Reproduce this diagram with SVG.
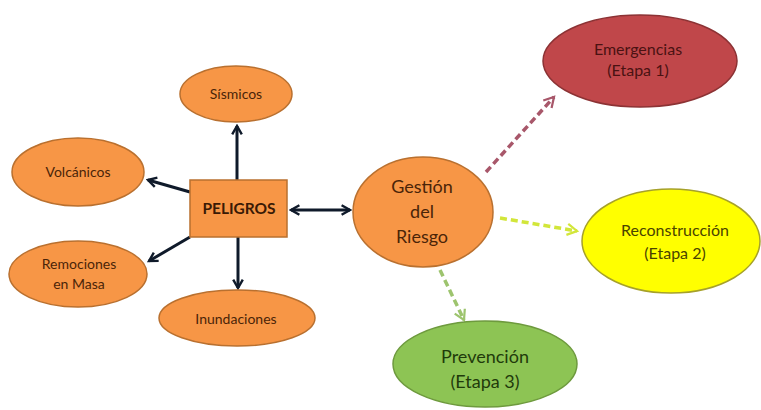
<svg xmlns="http://www.w3.org/2000/svg" width="761" height="410" viewBox="0 0 761 410">
  <style>
    .orange { fill: #F79646; stroke: #B9702F; stroke-width: 1.5; }
    .red { fill: #C0474A; stroke: #8C3234; stroke-width: 1.5; }
    .yellow { fill: #FFFF00; stroke: #A6A12A; stroke-width: 1.5; }
    .green { fill: #8DC454; stroke: #6E9A3E; stroke-width: 1.5; }
    text { font-family: Lato, "Open Sans", "Liberation Sans", sans-serif; text-anchor: middle; dominant-baseline: middle; }
    .t-or { fill: #4A2408; font-size: 14px; }
    .t-big { fill: #4A2408; font-size: 18px; }
    .t-red { fill: #4A1212; font-size: 16px; }
    .t-yel { fill: #4A4300; font-size: 16px; }
    .t-grn { fill: #213A0B; font-size: 18px; }
    .solid { stroke: #0F1A2A; stroke-width: 3; fill: none; }
    .dash { stroke-width: 3.5; fill: none; stroke-dasharray: 7 4; }
  </style>
  <defs>
    <marker id="ah" viewBox="0 0 10 10" refX="8" refY="5" markerWidth="4" markerHeight="4" orient="auto-start-reverse" markerUnits="strokeWidth">
      <path d="M1,1 L8,5 L1,9" fill="none" stroke="#0F1A2A" stroke-width="2"/>
    </marker>
    <marker id="ah-red" viewBox="0 0 10 10" refX="8" refY="5" markerWidth="4" markerHeight="4" orient="auto" markerUnits="strokeWidth">
      <path d="M1,1 L8,5 L1,9" fill="none" stroke="#A8576A" stroke-width="1.6"/>
    </marker>
    <marker id="ah-yel" viewBox="0 0 10 10" refX="8" refY="5" markerWidth="4" markerHeight="4" orient="auto" markerUnits="strokeWidth">
      <path d="M1,1 L8,5 L1,9" fill="none" stroke="#D2E63A" stroke-width="1.6"/>
    </marker>
    <marker id="ah-grn" viewBox="0 0 10 10" refX="8" refY="5" markerWidth="4" markerHeight="4" orient="auto" markerUnits="strokeWidth">
      <path d="M1,1 L8,5 L1,9" fill="none" stroke="#9DC46E" stroke-width="1.6"/>
    </marker>
  </defs>

  <rect width="761" height="410" fill="#FFFFFF"/>

  <g id="connectors">
    <line class="solid" x1="237" y1="180" x2="237" y2="126" marker-end="url(#ah)"/>
    <line class="solid" x1="190" y1="192" x2="148" y2="180" marker-end="url(#ah)"/>
    <line class="solid" x1="190" y1="237" x2="149" y2="261" marker-end="url(#ah)"/>
    <line class="solid" x1="238" y1="237" x2="238" y2="288" marker-end="url(#ah)"/>
    <line class="solid" x1="291" y1="210" x2="350" y2="210" marker-start="url(#ah)" marker-end="url(#ah)"/>
    <line class="dash" stroke="#A8576A" x1="486" y1="172" x2="554" y2="97" marker-end="url(#ah-red)"/>
    <line class="dash" stroke="#D2E63A" x1="500" y1="218" x2="577" y2="231" marker-end="url(#ah-yel)"/>
    <line class="dash" stroke="#9DC46E" x1="440" y1="270" x2="464" y2="320" marker-end="url(#ah-grn)"/>
  </g>

  <g id="sismicos">
    <ellipse class="orange" cx="236" cy="94" rx="56" ry="28"/>
    <text class="t-or" x="236" y="95" font-size="13">Sísmicos</text>
  </g>
  <g id="volcanicos">
    <ellipse class="orange" cx="78" cy="172" rx="66" ry="34"/>
    <text class="t-or" x="78" y="173">Volcánicos</text>
  </g>
  <g id="remociones">
    <ellipse class="orange" cx="78" cy="274" rx="69" ry="33"/>
    <text class="t-or" x="79" y="265">Remociones</text>
    <text class="t-or" x="79" y="285">en Masa</text>
  </g>
  <g id="inundaciones">
    <ellipse class="orange" cx="237" cy="318" rx="78" ry="28"/>
    <text class="t-or" x="236" y="320">Inundaciones</text>
  </g>
  <g id="peligros">
    <rect class="orange" x="190" y="180" width="97" height="57"/>
    <text x="239" y="210" font-size="15.5" font-weight="bold" fill="#3A1A05">PELIGROS</text>
  </g>
  <g id="gestion">
    <ellipse class="orange" cx="423" cy="212" rx="70" ry="55"/>
    <text class="t-big" x="422" y="188">Gestión</text>
    <text class="t-big" x="422" y="213">del</text>
    <text class="t-big" x="422" y="238">Riesgo</text>
  </g>
  <g id="emergencias">
    <ellipse class="red" cx="640" cy="61" rx="97" ry="46"/>
    <text class="t-red" x="638" y="51">Emergencias</text>
    <text class="t-red" x="638" y="72">(Etapa 1)</text>
  </g>
  <g id="reconstruccion">
    <ellipse class="yellow" cx="671" cy="241" rx="89" ry="52"/>
    <text class="t-yel" x="675" y="232">Reconstrucción</text>
    <text class="t-yel" x="675" y="255">(Etapa 2)</text>
  </g>
  <g id="prevencion">
    <ellipse class="green" cx="485" cy="364" rx="92" ry="43"/>
    <text class="t-grn" x="485" y="358">Prevención</text>
    <text class="t-grn" x="485" y="383">(Etapa 3)</text>
  </g>
</svg>
